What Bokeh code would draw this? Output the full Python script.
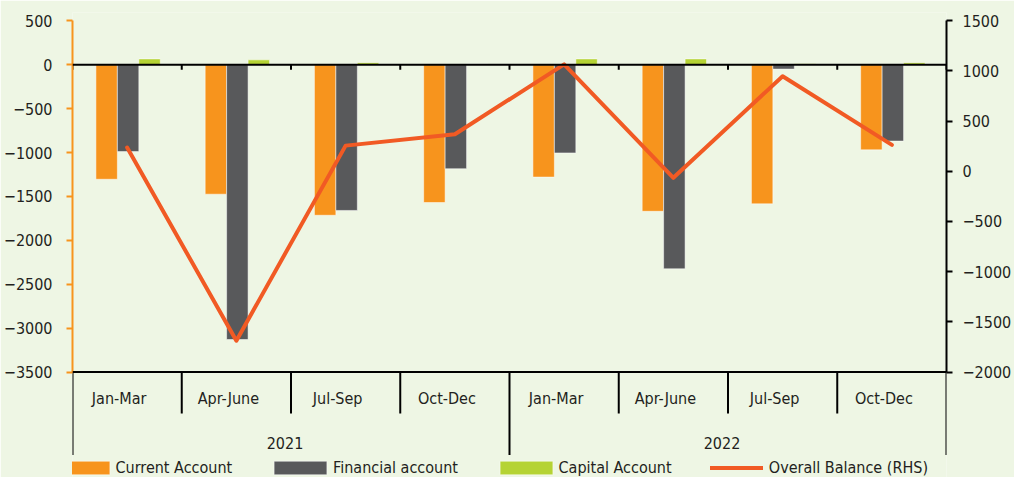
from bokeh.plotting import figure
from bokeh.models import Range1d, LinearAxis, FixedTicker, Span, Legend, LegendItem, ColumnDataSource
from bokeh.transform import dodge
from bokeh.core.properties import value
from bokeh.embed import file_html
from bokeh.resources import INLINE

# ---------------- data ----------------
years = ["2021", "2022"]
quarters = ["Jan-Mar", "Apr-June", "Jul-Sep", "Oct-Dec"]
current_account = [-1305, -1475, -1715, -1570, -1280, -1670, -1585, -970]
financial_account = [-990, -3130, -1660, -1185, -1005, -2325, -50, -870]
capital_account = [66, 55, 22, 8, 66, 66, 10, 22]
overall_balance = [237, -1688, 256, 369, 1066, -65, 948, 263]
left_ticks = [-3500, -3000, -2500, -2000, -1500, -1000, -500, 0, 500]
right_ticks = [-2000, -1500, -1000, -500, 0, 500, 1000, 1500]
series_names = ["Current Account", "Financial account", "Capital Account", "Overall Balance (RHS)"]

# ---------------- style / layout ----------------
FONT = "DejaVu Sans Condensed, Liberation Sans, sans-serif"
FS = "16px"
BG = "#eef6e4"
TXT = "#231f20"
C_CUR = "#f7941d"
C_FIN = "#58595b"
C_CAP = "#b5d334"
C_LINE = "#f15a24"

W, H = 1014, 477
BORDER_L, BORDER_R, BORDER_T = 72, 60, 12
FRAME_B = H
AX_TOP_PX, AX_BOT_PX = 20.3, 371.5   # canvas rows of the axis ends

n = len(years) * len(quarters)
centers = [i + 0.5 for i in range(n)]
quarter_labels = quarters * len(years)

L_LO, L_HI = left_ticks[0], left_ticks[-1]
R_LO, R_HI = right_ticks[0], right_ticks[-1]
s_l = (AX_BOT_PX - AX_TOP_PX) / (L_HI - L_LO)
s_r = (AX_BOT_PX - AX_TOP_PX) / (R_HI - R_LO)

y_left = Range1d(L_LO - (FRAME_B - AX_BOT_PX) / s_l, L_HI + (AX_TOP_PX - BORDER_T) / s_l)
y_right = Range1d(R_LO - (FRAME_B - AX_BOT_PX) / s_r, R_HI + (AX_TOP_PX - BORDER_T) / s_r)

p = figure(width=W, height=H, x_range=Range1d(0, n), y_range=y_left,
           x_axis_location=None, y_axis_location=None,
           output_backend="svg", toolbar_location=None,
           min_border_left=BORDER_L, min_border_right=BORDER_R,
           min_border_top=BORDER_T, min_border_bottom=0,
           background_fill_color=BG, border_fill_color=BG, outline_line_color=None)
p.extra_y_ranges = {"rhs": y_right}
p.grid.visible = False

# axes
la = LinearAxis(bounds=(L_LO, L_HI), ticker=FixedTicker(ticks=left_ticks),
                axis_line_color=C_CUR, axis_line_width=2,
                major_tick_line_color=C_CUR, major_tick_line_width=2,
                major_tick_out=6, major_tick_in=0, minor_tick_line_color=None,
                major_label_text_font=FONT, major_label_text_font_size=FS,
                major_label_text_color=TXT, major_label_standoff=14)
p.add_layout(la, "left")
ra = LinearAxis(y_range_name="rhs", bounds=(R_LO, R_HI), ticker=FixedTicker(ticks=right_ticks),
                axis_line_color="black", axis_line_width=2,
                major_tick_line_color="black", major_tick_line_width=2,
                major_tick_out=6, major_tick_in=0, minor_tick_line_color=None,
                major_label_text_font=FONT, major_label_text_font_size=FS,
                major_label_text_color=TXT, major_label_standoff=10)
p.add_layout(ra, "right")

# bars
src = ColumnDataSource(dict(x=centers, cur=current_account, fin=financial_account, cap=capital_account))
bw = 22 / 112
r_cur = p.vbar(x=dodge("x", -21 / 112, range=p.x_range), top="cur", bottom=0, width=bw, source=src,
               fill_color=C_CUR, line_color="white", line_alpha=0.5, line_width=1)
r_fin = p.vbar(x=dodge("x", 1 / 112, range=p.x_range), top="fin", bottom=0, width=bw, source=src,
               fill_color=C_FIN, line_color="white", line_alpha=0.5, line_width=1)
r_cap = p.vbar(x=dodge("x", 23 / 112, range=p.x_range), top="cap", bottom=0, width=bw, source=src,
               fill_color=C_CAP, line_color="white", line_alpha=0.5, line_width=1)

# zero line and bottom line
p.add_layout(Span(location=0, dimension="width", line_color="black", line_width=2))
p.add_layout(Span(location=L_LO, dimension="width", line_color="black", line_width=2))

# small ticks below zero line at category boundaries
bounds = list(range(n + 1))
p.segment(x0=bounds, x1=bounds, y0=[0] * len(bounds), y1=[-5 / s_l] * len(bounds),
          line_color="black", line_width=2)

# category separators
q_len = len(quarters)
sep_y1 = [L_LO - (83 if b % q_len == 0 else 41.5) / s_l for b in bounds]
p.segment(x0=bounds, x1=bounds, y0=[L_LO] * len(bounds), y1=sep_y1, line_color="black", line_width=2)

# overall balance line (RHS)
r_line = p.line(x=centers, y=overall_balance, y_range_name="rhs", line_color=C_LINE,
                line_width=4, line_cap="round", line_join="round")

# category labels
p.text(x=centers, y=[L_LO - 26 / s_l] * n, text=quarter_labels, x_offset=-8,
       text_align="center", text_baseline="middle", text_font=value(FONT),
       text_font_size=FS, text_color=TXT)
year_x = [q_len * (i + 0.5) for i in range(len(years))]
p.text(x=year_x, y=[L_LO - 70.5 / s_l] * len(years), text=years, x_offset=-6,
       text_align="center", text_baseline="middle", text_font=value(FONT),
       text_font_size=FS, text_color=TXT)

# legends
legend_specs = [(r_cur, series_names[0], -22.5, 66, 0),
                (r_fin, series_names[1], 195.1, 66, 0),
                (r_cap, series_names[2], 420.5, 66, 0),
                (r_line, series_names[3], 637.8, 53, 6)]
for r, lab, lx, gw, so in legend_specs:
    lg = Legend(items=[LegendItem(label=value(lab), renderers=[r])], location=(lx, 0),
                orientation="horizontal", padding=0, margin=0, spacing=0,
                glyph_width=gw, glyph_height=17, label_standoff=so,
                border_line_color=None, background_fill_alpha=0,
                label_text_font=FONT, label_text_font_size=FS, label_text_color=TXT)
    p.add_layout(lg)

open("out.html", "w").write(file_html(p, INLINE))
